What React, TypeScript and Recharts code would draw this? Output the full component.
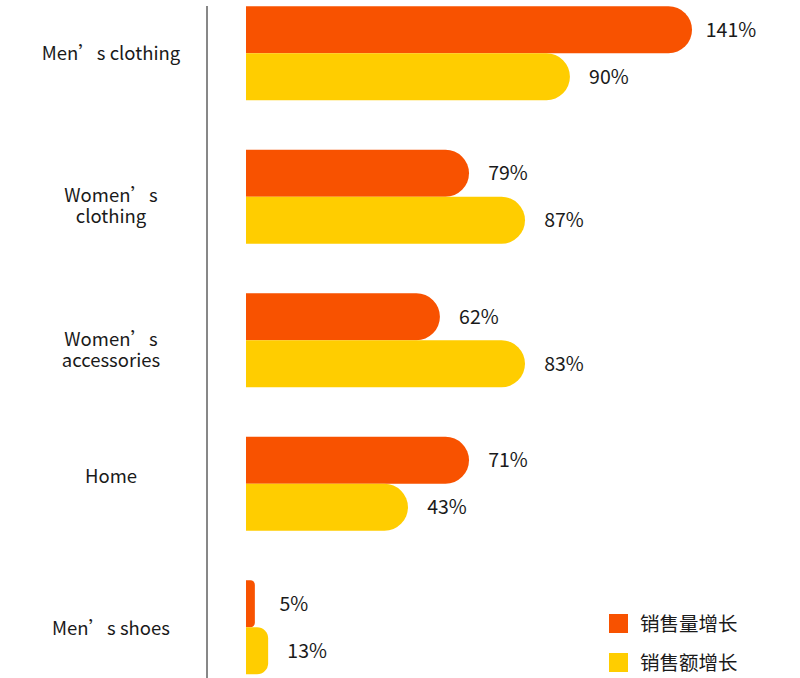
import { BarChart, Bar, XAxis, YAxis, LabelList, Legend } from "recharts"

// categories, top to bottom ("\n" marks a wrapped tick label)
const categories = ["Men’s clothing", "Women’s\nclothing", "Women’s\naccessories", "Home", "Men’s shoes"]
// bar lengths as drawn in the reference (label text does not scale with them)
const volumeBars = [141, 70.5, 61.3, 70.5, 2.8]
const salesBars = [102.4, 88.2, 88.2, 51.2, 7.0]
// printed value labels
const volumeLabels = ["141%", "79%", "62%", "71%", "5%"]
const salesLabels = ["90%", "87%", "83%", "43%", "13%"]
const seriesNames = ["销售量增长", "销售额增长"]

const ORANGE = "#F85200"
const YELLOW = "#FFCD00"
const TEXT = "#1a1a1a"
const FONT = "'Noto Sans CJK SC', 'Noto Sans', sans-serif"

// small vertical nudges of the tick labels, to follow the reference
const TICK_NUDGE = [0, -2, -1, -8, 1]

const data = categories.map((name, i) => ({
    name,
    volume: volumeBars[i],
    sales: salesBars[i],
    volumeLabel: volumeLabels[i],
    salesLabel: salesLabels[i],
}))

function CategoryTick(props: any) {
    const { y, payload } = props
    const idx = categories.indexOf(payload.value)
    const lines = String(payload.value).split("\n")
    const nudge = TICK_NUDGE[idx] ?? 0
    const cx = 111
    return (
        <g>
            {lines.map((l, i) => (
                <text
                    key={i}
                    x={cx}
                    y={y + 7 + nudge + i * 21}
                    textAnchor="middle"
                    fill={TEXT}
                    fontSize={18.5}
                    fontFamily={FONT}
                >
                    {l}
                </text>
            ))}
        </g>
    )
}

function ValueLabel(props: any) {
    const { x, y, width, height, value } = props
    return (
        <text
            x={x + width + 39}
            y={y + height / 2 + 7}
            textAnchor="middle"
            fill={TEXT}
            fontSize={19.5}
            fontFamily={FONT}
        >
            {value}
        </text>
    )
}

function LegendBox() {
    const colors = [ORANGE, YELLOW]
    return (
        <div style={{ display: "flex", flexDirection: "column", gap: 19 }}>
            {seriesNames.map((n, i) => (
                <div key={n} style={{ display: "flex", alignItems: "center", height: 20 }}>
                    <span style={{ width: 19, height: 19, background: colors[i], display: "inline-block" }} />
                    <span style={{ marginLeft: 12, fontSize: 19.5, color: TEXT, fontFamily: FONT, lineHeight: "20px" }}>
                        {n}
                    </span>
                </div>
            ))}
        </div>
    )
}

export default function App() {
    return (
        <div style={{ position: "absolute", left: 0, top: 0, width: 800, height: 678, background: "#fff" }}>
            <BarChart
                width={800}
                height={678}
                data={data}
                layout="vertical"
                margin={{ top: 6, right: 79.5, bottom: 0, left: 0 }}
                barSize={47}
                barGap={0}
            >
                <XAxis type="number" domain={[0, 150]} hide padding={{ left: 39, right: 0 }} />
                <YAxis
                    type="category"
                    dataKey="name"
                    width={207}
                    axisLine={{ stroke: "#111", strokeWidth: 1 }}
                    tickLine={false}
                    tick={<CategoryTick />}
                    interval={0}
                    padding={{ top: -24.75, bottom: -20.75 }}
                />
                <Legend
                    layout="horizontal"
                    verticalAlign="middle"
                    align="center"
                    content={<LegendBox />}
                    wrapperStyle={{ left: 609, top: 613, width: 180 }}
                />
                <Bar dataKey="volume" fill={ORANGE} radius={[0, 23.5, 23.5, 0]} isAnimationActive={false}>
                    <LabelList dataKey="volumeLabel" content={<ValueLabel />} />
                </Bar>
                <Bar dataKey="sales" fill={YELLOW} radius={[0, 23.5, 23.5, 0]} isAnimationActive={false}>
                    <LabelList dataKey="salesLabel" content={<ValueLabel />} />
                </Bar>
            </BarChart>
        </div>
    )
}
